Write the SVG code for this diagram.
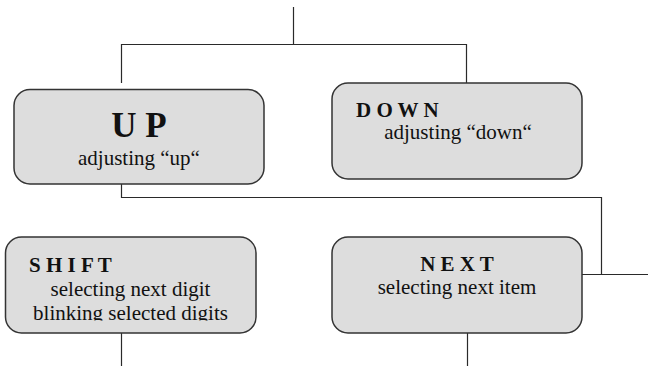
<svg xmlns="http://www.w3.org/2000/svg" width="648" height="366" viewBox="0 0 648 366">
  <style>
    .box { fill: #dddddd; stroke: #333333; stroke-width: 1.5; }
    .wire { fill: none; stroke: #2a2a2a; stroke-width: 1.2; }
    .title { font-family: "Liberation Serif", "Times New Roman", serif; font-weight: bold; font-size: 21px; fill: #111; }
    .big { font-family: "Liberation Serif", "Times New Roman", serif; font-weight: bold; font-size: 35px; fill: #111; }
    .body { font-family: "Liberation Serif", "Times New Roman", serif; font-size: 21px; fill: #111; }
  </style>
  <defs>
    <!-- the last SHIFT line is cut off at the box text area's lower edge -->
    <clipPath id="shiftClip">
      <rect x="0" y="230" width="300" height="90.5"/>
    </clipPath>
  </defs>
  <rect width="648" height="366" fill="#ffffff"/>

  <g id="connectors">
    <path class="wire" d="M293.5 7 V44.5"/>
    <path class="wire" d="M121.5 83 V44.5 H466.5 V83"/>
    <path class="wire" d="M121.5 184 V197.5 H601.5 V274.5"/>
    <path class="wire" d="M582 274.5 H648"/>
    <path class="wire" d="M121.5 333 V366"/>
    <path class="wire" d="M467.5 333 V366"/>
  </g>

  <g id="node-up">
    <rect class="box" x="14" y="89.5" width="250" height="94.5" rx="16"/>
    <text class="big" x="139" y="137" text-anchor="middle">U P</text>
    <text class="body" x="139" y="165" text-anchor="middle">adjusting “up“</text>
  </g>

  <g id="node-down">
    <rect class="box" x="332" y="83" width="250" height="96" rx="16"/>
    <text class="title" x="356" y="117">D O W N</text>
    <text class="body" x="458" y="139" text-anchor="middle">adjusting “down“</text>
  </g>

  <g id="node-shift">
    <rect class="box" x="5.5" y="237" width="250.5" height="96" rx="16"/>
    <text class="title" x="29" y="271.5">S H I F T</text>
    <text class="body" x="130.5" y="295.5" text-anchor="middle">selecting next digit</text>
    <text class="body" x="130.5" y="319.5" text-anchor="middle" clip-path="url(#shiftClip)">blinking selected digits</text>
  </g>

  <g id="node-next">
    <rect class="box" x="332" y="237" width="250" height="96" rx="16"/>
    <text class="title" x="457" y="271" text-anchor="middle">N E X T</text>
    <text class="body" x="457" y="294" text-anchor="middle">selecting next item</text>
  </g>
</svg>
